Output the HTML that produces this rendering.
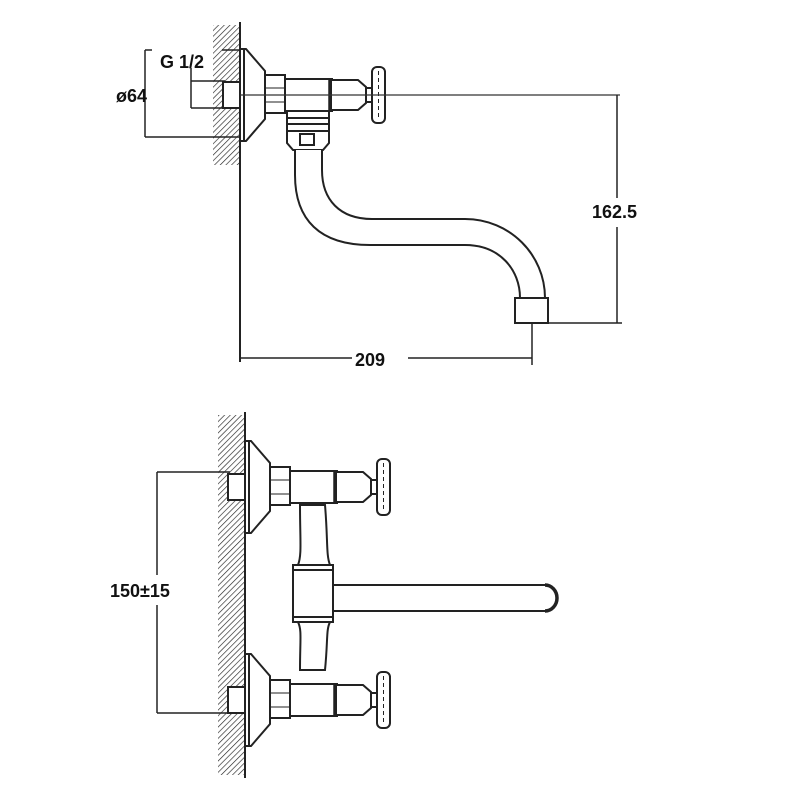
<!DOCTYPE html>
<html><head><meta charset="utf-8"><style>body{margin:0;background:#fff}svg{display:block}</style></head><body>
<svg width="800" height="800" viewBox="0 0 800 800" xmlns="http://www.w3.org/2000/svg" font-family="Liberation Sans, sans-serif">
<defs>
<pattern id="h" width="4" height="4" patternUnits="userSpaceOnUse" patternTransform="rotate(45)">
<line x1="0" y1="0" x2="0" y2="4" stroke="#222" stroke-width="1.3"/></pattern>
<g id="valve" fill="#fff" stroke="#222" stroke-width="2">
<rect x="-17" y="-13" width="17" height="26"/>
<path d="M0,-46 H6 L25,-24 V24 L6,46 H0 Z"/>
<line x1="4" y1="-46" x2="4" y2="46"/>
<rect x="25" y="-20" width="20" height="38"/>
<line x1="25" y1="-7" x2="45" y2="-7" stroke-width="1"/><line x1="25" y1="7" x2="45" y2="7" stroke-width="1"/>
<rect x="45" y="-16" width="47" height="32"/>
<line x1="90" y1="-16" x2="90" y2="16" stroke-width="3.5"/>
<path d="M92,-15 H118 L126,-8 V8 L118,15 H92"/>
<rect x="126" y="-7" width="6" height="14"/>
<rect x="132" y="-28" width="13" height="56" rx="5"/>
<line x1="138.5" y1="-24" x2="138.5" y2="24" stroke-width="1" stroke-dasharray="4 3"/>
</g>
</defs>
<!-- TOP VIEW -->
<rect x="213" y="25" width="27" height="140" fill="url(#h)"/>
<line x1="240" y1="22" x2="240" y2="362" stroke="#222" stroke-width="2"/>
<use href="#valve" x="240" y="95"/>
<line x1="240" y1="95" x2="620" y2="95" stroke="#333" stroke-width="1.2"/>
<g fill="#fff" stroke="#222" stroke-width="2">
<rect x="287" y="111" width="42" height="20"/>
<line x1="287" y1="118" x2="329" y2="118"/><line x1="287" y1="124" x2="329" y2="124"/>
<path d="M287,131 H329 V143 L323,150 H293 L287,143 Z"/>
<rect x="300" y="134" width="14" height="11"/>
<path d="M295,150 V175 C295,220 320,245 370,245 H465 C500,245 520,270 520,298 H545 C545,255 510,219 465,219 H372 C340,219 322,200 322,170 V150"/>
<rect x="515" y="298" width="33" height="25"/>
</g>
<g stroke="#222" stroke-width="1.5" fill="none">
<line x1="548" y1="323" x2="622" y2="323"/>
<line x1="617" y1="95" x2="617" y2="198"/><line x1="617" y1="227" x2="617" y2="323"/>
<line x1="532" y1="323" x2="532" y2="365"/>
<line x1="240" y1="358" x2="352" y2="358"/><line x1="408" y1="358" x2="532" y2="358"/>
<line x1="145" y1="50" x2="145" y2="137"/><line x1="145" y1="137" x2="240" y2="137"/>
<line x1="145" y1="50" x2="152" y2="50"/><line x1="222" y1="50" x2="240" y2="50"/>
<line x1="191" y1="68" x2="191" y2="108"/><line x1="191" y1="81" x2="225" y2="81"/><line x1="191" y1="108" x2="225" y2="108"/>
<line x1="157" y1="472" x2="157" y2="575"/><line x1="157" y1="605" x2="157" y2="713"/>
<line x1="157" y1="472" x2="230" y2="472"/><line x1="157" y1="713" x2="230" y2="713"/>
</g>
<g font-size="18" font-weight="bold" fill="#111">
<text x="160" y="68">G 1/2</text>
<text x="116" y="102">ø64</text>
<text x="592" y="218">162.5</text>
<text x="355" y="366">209</text>
<text x="110" y="597">150±15</text>
</g>
<!-- BOTTOM VIEW -->
<rect x="218" y="415" width="27" height="360" fill="url(#h)"/>
<line x1="245" y1="412" x2="245" y2="778" stroke="#222" stroke-width="2"/>
<g fill="#fff" stroke="#222" stroke-width="2">
<path d="M300,505 C300,540 302,555 298,565 H330 C326,555 328,540 325,505 Z"/>
<path d="M300,670 C300,640 302,630 298,622 H330 C326,630 328,640 325,670 Z"/>
<path d="M333,585 H545 A12 13 0 0 1 545,611 H333 Z"/>
<path d="M545,585 A12 13 0 0 1 545,611" stroke-width="3.5"/>
<rect x="293" y="565" width="40" height="57"/>
<line x1="293" y1="570" x2="333" y2="570"/><line x1="293" y1="617" x2="333" y2="617"/>
</g>
<use href="#valve" x="245" y="487"/>
<use href="#valve" x="245" y="700"/>
</svg>
</body></html>
